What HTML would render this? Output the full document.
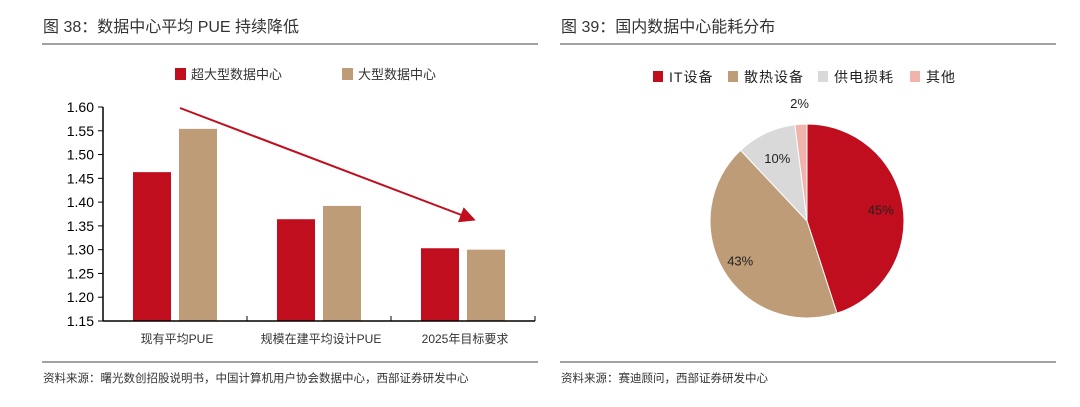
<!DOCTYPE html>
<html><head><meta charset="utf-8"><style>
body{margin:0;background:#fff;width:1080px;height:402px;overflow:hidden;font-family:"Liberation Sans","Noto Sans CJK SC",sans-serif;}
svg text{font-family:"Liberation Sans","Noto Sans CJK SC",sans-serif;}
</style></head><body>
<svg width="1080" height="402">
<text x="43" y="32" font-size="16" fill="#333">图 38：数据中心平均 PUE 持续降低</text>
<line x1="42" y1="44" x2="538" y2="44" stroke="#444" stroke-width="1"/>
<line x1="42" y1="362" x2="538" y2="362" stroke="#444" stroke-width="1"/>
<text x="43" y="382" font-size="11.5" fill="#333">资料来源：曙光数创招股说明书，中国计算机用户协会数据中心，西部证券研发中心</text>
<text x="561" y="32" font-size="16" fill="#333">图 39：国内数据中心能耗分布</text>
<line x1="560" y1="44" x2="1056" y2="44" stroke="#444" stroke-width="1"/>
<line x1="560" y1="362" x2="1056" y2="362" stroke="#444" stroke-width="1"/>
<text x="561" y="382" font-size="11.5" fill="#333">资料来源：赛迪顾问，西部证券研发中心</text>
<g id="bar"></g>
<g id="pie"></g>
</svg>
<script>
const categories=["现有平均PUE","规模在建平均设计PUE","2025年目标要求"];
const seriesNames=["超大型数据中心","大型数据中心"];
const hyperValues=[1.463,1.364,1.303];
const largeValues=[1.554,1.392,1.300];
const yTicks=[1.15,1.20,1.25,1.30,1.35,1.40,1.45,1.50,1.55,1.60];
const pieLabels=["IT设备","散热设备","供电损耗","其他"];
const pieValues=[45,43,10,2];

const NS="http://www.w3.org/2000/svg";
function mk(p,t,a,txt){const e=document.createElementNS(NS,t);for(const k in a)e.setAttribute(k,a[k]);if(txt!==undefined)e.textContent=txt;p.appendChild(e);return e;}
const colors=["#c00e1e","#bf9c78"];
const bar=document.getElementById('bar');
const x0=103,x1=535,yTop=107,yBot=321,vMin=1.15,vMax=1.60;
const y=v=>yBot-(v-vMin)/(vMax-vMin)*(yBot-yTop);
const cw=(x1-x0)/categories.length;
yTicks.forEach(t=>{
  let l=mk(bar,'line',{x1:x0-5,x2:x0,y1:y(t),y2:y(t),stroke:'#000'});
  
  
  let tx=mk(bar,'text',{x:x0-9,y:y(t)+5,'text-anchor':'end','font-size':14,fill:'#000'},t.toFixed(2));
  
  
});
[hyperValues,largeValues].forEach((vals,s)=>{
  vals.forEach((v,i)=>{
    const bx=x0+cw*i+30+s*46;
    let r=mk(bar,'rect',{x:bx,y:y(v),width:38,height:yBot-y(v),fill:colors[s]});
    
    
  });
});
let ax=mk(bar,'line',{x1:x0,x2:x0,y1:yTop,y2:yBot,stroke:'#000','stroke-width':1.5});


let bx=mk(bar,'line',{x1:x0,x2:x1,y1:yBot,y2:yBot,stroke:'#000','stroke-width':1.5});


categories.forEach((c,i)=>{
  let tk=mk(bar,'line',{x1:x0+cw*(i+1),x2:x0+cw*(i+1),y1:yBot,y2:yBot-5,stroke:'#000'});
  
  
  let t=mk(bar,'text',{x:x0+cw*(i+0.5)+2,y:343,'text-anchor':'middle','font-size':12,fill:'#333'},c);
  
  
});
seriesNames.forEach((n,s)=>{
  const lx=[175,342][s];
  let r=mk(bar,'rect',{x:lx,y:68,width:11,height:12,fill:colors[s]});
  
  
  let t=mk(bar,'text',{x:lx+16,y:79,'font-size':13,fill:'#333'},n);
  
  
});
let defs=mk(bar,'defs',{});
let m=mk(defs,'marker',{id:'ah',markerWidth:8,markerHeight:8,refX:6,refY:4,orient:'auto',markerUnits:'strokeWidth'});
mk(m,'path',{d:'M0,0 L8,4 L0,8 z',fill:'#c00e1e'});
let ar=mk(bar,'line',{x1:180,y1:108,x2:472,y2:219,stroke:'#c00e1e','stroke-width':2,'marker-end':'url(#ah)'});



const pie=document.getElementById('pie');
const pcol=["#c00e1e","#bf9c78","#d9d9d9","#f0b4ac"];
const cx=807,cy=221,R=97;
const total=pieValues.reduce((a,b)=>a+b,0);
let ang=0;
const lblR=[0.77,0.8,0.72,1.22];
pieValues.forEach((v,i)=>{
  const a0=ang,a1=ang+v/total*2*Math.PI;ang=a1;
  const p=a=>[cx+R*Math.sin(a),cy-R*Math.cos(a)];
  const [sx,sy]=p(a0),[ex,ey]=p(a1);
  let s=mk(pie,'path',{d:`M${cx},${cy} L${sx},${sy} A${R},${R} 0 ${a1-a0>Math.PI?1:0} 1 ${ex},${ey} Z`,fill:pcol[i],stroke:'#fff','stroke-width':1});
  
  
  const am=(a0+a1)/2,rr=R*lblR[i];
  let t=mk(pie,'text',{x:cx+rr*Math.sin(am),y:cy-rr*Math.cos(am)+5,'text-anchor':'middle','font-size':13,fill:'#222'},v+'%');
  
  
});
const lxs=[653,728,818,910];
pieLabels.forEach((n,i)=>{
  let r=mk(pie,'rect',{x:lxs[i],y:71,width:10,height:11,fill:pcol[i]});
  
  
  let t=mk(pie,'text',{x:lxs[i]+16,y:82,'font-size':14,fill:'#222','letter-spacing':'1'},n);
  
  
});
</script>
</body></html>
